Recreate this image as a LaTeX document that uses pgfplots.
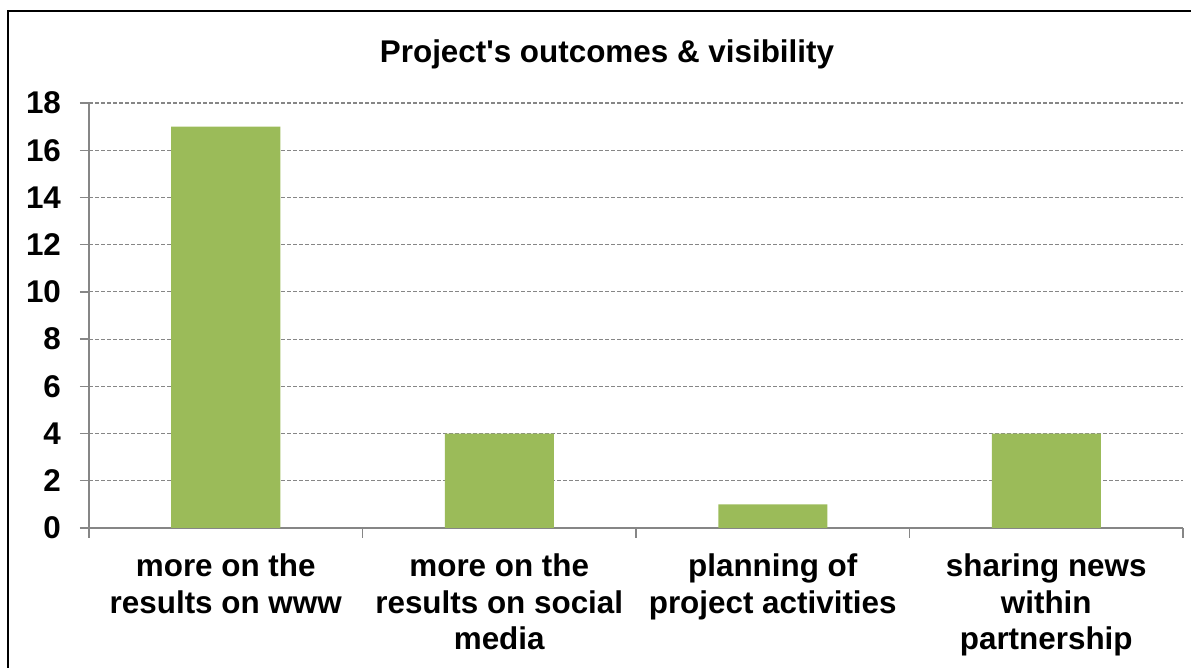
\documentclass[border=0pt]{standalone}
\usepackage{pgfplots}
\pgfplotsset{compat=1.18}
\usepackage{fontspec}
\setmainfont{Liberation Sans}
\newfontfamily\plainarial{Liberation Sans}
\definecolor{bargreen}{HTML}{9BBB59}
\definecolor{axgray}{HTML}{868686}
\begin{document}
\begin{tikzpicture}
\useasboundingbox (0pt,0pt) rectangle (600.5pt,334pt);
\draw[black,line width=1.2pt] (4pt,0pt) -- (4pt,328.5pt) -- (595.5pt,328.5pt);
\node[font=\fontsize{15.7}{18.2}\selectfont\plainarial\bfseries] at (303.5pt,307pt) {Project's outcomes \& visibility};
\begin{axis}[
  at={(44.5pt,70pt)}, anchor=south west,
  scale only axis, width=547pt, height=212.5pt,
  xmin=-0.5, xmax=3.5, ymin=0, ymax=18,
  ytick={0,2,...,18},
  xtick={0,1,2,3},
  xticklabels={{more on the\\results on www}, {more on the\\results on social\\media}, {planning of\\project activities}, {sharing news\\within\\partnership}},
  minor xtick={-0.5,0.5,1.5,2.5,3.5},
  major x tick style={draw=none},
  minor tick length=5pt,
  major tick length=4.5pt,
  tick align=outside,
  tick pos=lower,
  axis lines*=left,
  axis line style={axgray, line width=0.7pt},
  tick style={axgray, line width=0.7pt},
  ymajorgrids,
  grid style={axgray, dashed, dash pattern=on 2pt off 1pt, line width=0.6pt},
  ticklabel style={font=\fontsize{15.7}{18.2}\selectfont\bfseries},
  yticklabel style={anchor=east, xshift=-6pt},
  xticklabel style={align=center, anchor=north, yshift=-5pt},
  /pgf/number format/assume math mode=true,
  ybar, bar width=54.5pt,
]
\addplot[fill=bargreen, draw=none] coordinates {(0,17) (1,4) (2,1) (3,4)};
\end{axis}
\end{tikzpicture}
\end{document}
